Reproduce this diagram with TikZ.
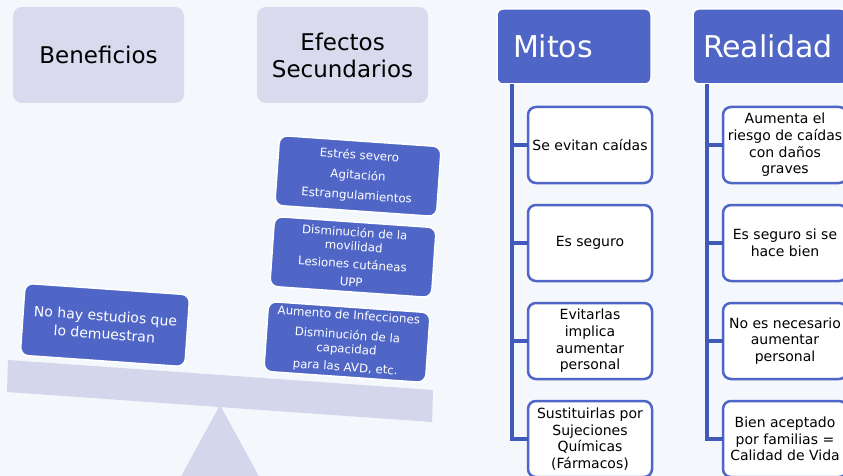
\documentclass[tikz,border=0pt]{standalone}
\usepackage{fontspec}
\setmainfont{DejaVu Sans}
\usetikzlibrary{positioning}
\definecolor{bluebox}{HTML}{4F66C6}
\definecolor{blueline}{HTML}{4159B8}
\definecolor{lavbox}{HTML}{D9DAEE}
\definecolor{beamcol}{HTML}{D4D6EC}
\definecolor{bgtint}{HTML}{F4F7FC}

\begin{document}
\begin{tikzpicture}
[x=1pt,y=1pt,
 every node/.style={inner sep=0pt,outer sep=0pt},
 title/.style={rectangle,rounded corners=9pt,fill=lavbox,minimum width=171pt,minimum height=96pt,
               font=\fontsize{23}{27}\selectfont,align=center},
 side/.style={rectangle,rounded corners=8pt,fill=bluebox,draw=white,line width=1.5pt,
              text=white,align=center,rotate=-4},
 stack/.style={side,minimum width=162pt,minimum height=70pt,font=\fontsize{11.8}{14}\selectfont},
 head/.style={rectangle,rounded corners=6pt,fill=bluebox,draw=white,line width=1.5pt,
              minimum height=75pt,text=white,align=left,font=\fontsize{30}{36}\selectfont,anchor=north west},
 item/.style={rectangle,rounded corners=8pt,fill=white,draw=bluebox,line width=2.5pt,
              minimum width=124pt,minimum height=76pt,align=center,font=\fontsize{14}{16.7}\selectfont},
 link/.style={draw=blueline,line width=3.5pt},
 node distance=22pt]

\fill[bgtint] (0,0) rectangle (843,-476);
\useasboundingbox (0,0) rectangle (843,-476);

% balance
\node[title] (benef) at (98.5,-55)  {Beneficios};
\node[title] (efect) at (342.5,-55) {Efectos\\Secundarios};
\fill[beamcol] (8,-360) -- (433,-390) -- (432,-422) -- (7,-392) -- cycle;
\fill[beamcol] (220,-405) -- (261,-480) -- (179,-480) -- cycle;

\node[side,minimum width=165pt,minimum height=72pt,font=\fontsize{14}{18}\selectfont] (nohay) at (105,-325)
  {No hay estudios que\\lo demuestran};
\node[stack] (estres) at (358,-176) {Estrés severo\\[6pt]Agitación\\[6pt]Estrangulamientos};
\node[stack] (movil)  at (353,-257) {Disminución de la\\movilidad\\[4pt]Lesiones cutáneas\\[4pt]UPP};
\node[stack] (infec)  at (347,-342) {Aumento de Infecciones\\[6pt]Disminución de la\\capacidad\\[4pt]para las AVD, etc.};

% mitos
\node[head,minimum width=154pt,inner xsep=16pt,text width=122pt] (mitos) at (497,-9) {Mitos};
\node[item] (m1) at (590,-145)  {Se evitan caídas};
\node[item] (m2) [below=of m1] {Es seguro};
\node[item] (m3) [below=of m2] {Evitarlas\\implica\\aumentar\\personal};
\node[item] (m4) [below=of m3] {Sustituirlas por\\Sujeciones\\Químicas\\(Fármacos)};
\coordinate (mtop) at ([xshift=15pt]mitos.south west);
\draw[link] (mtop) |- (m4.west);
\foreach \i in {1,2,3}
  \draw[link] (mtop |- m\i.west) -- (m\i.west);

% realidad
\node[head,minimum width=154pt,inner xsep=10pt,text width=134pt] (real) at (693,-9) {Realidad};
\node[item] (r1) at (785,-145)  {Aumenta el\\riesgo de caídas\\con daños\\graves};
\node[item] (r2) [below=of r1] {Es seguro si se\\hace bien};
\node[item] (r3) [below=of r2] {No es necesario\\aumentar\\personal};
\node[item] (r4) [below=of r3] {Bien aceptado\\por familias =\\Calidad de Vida};
\coordinate (rtop) at ([xshift=14pt]real.south west);
\draw[link] (rtop) |- (r4.west);
\foreach \i in {1,2,3}
  \draw[link] (rtop |- r\i.west) -- (r\i.west);
\end{tikzpicture}
\end{document}
